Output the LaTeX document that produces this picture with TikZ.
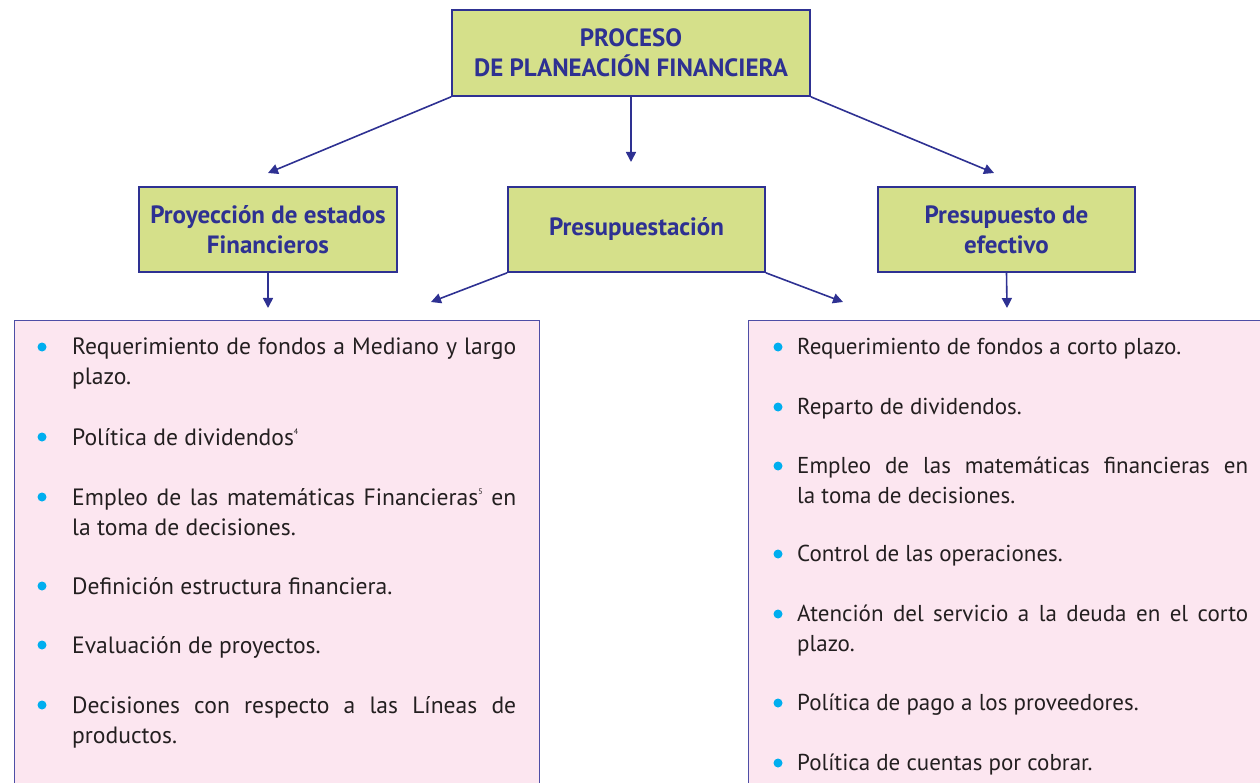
\documentclass[tikz,border=0pt]{standalone}
\usepackage{fontspec}
\setmainfont{PT Sans}
\usetikzlibrary{arrows.meta}
\definecolor{navy}{HTML}{2E3192}
\definecolor{lgreen}{HTML}{D5E08A}
\definecolor{lpink}{HTML}{FCE6F0}
\definecolor{pinkedge}{HTML}{4E4EA6}
\definecolor{cyanb}{HTML}{00AEEF}
\definecolor{txt}{HTML}{231F20}
\tikzset{
  head/.style={draw=navy, line width=1.6pt, fill=lgreen, text=navy, align=center,
    font=\fontsize{25}{30}\selectfont\bfseries, inner sep=0pt},
  listbox/.style={draw=pinkedge, line width=1.4pt, fill=lpink, inner sep=0pt, anchor=north west},
  arr/.style={draw=navy, line width=1.6pt, -{Triangle[length=10pt,width=10pt]}},
  item/.style={anchor=north west, inner sep=0pt, text=txt, align=justify,
    font=\fontsize{23}{30}\selectfont},
  litem/.style={item, text width=444pt, font=\fontsize{23.6}{30}\selectfont},
  ritem/.style={item, text width=451pt},
  bul/.style={circle, fill=cyanb, inner sep=0pt, minimum size=9pt},
}
\newcommand{\fnum}[1]{{\fontsize{8}{8}\selectfont\raisebox{11pt}{#1}}}
\newcommand{\st}{\rule{0pt}{15pt}}
\begin{document}
\begin{tikzpicture}[x=1pt,y=-1pt]
\useasboundingbox (0,0) rectangle (1260,783);
\clip (0,0) rectangle (1260,783);
% boxes
\node[head, minimum width=358pt, minimum height=86pt] (top) at (631,53) {PROCESO\\DE PLANEACIÓN FINANCIERA};
\node[head, minimum width=258pt, minimum height=85pt] (proy) at (268,229.5) {Proyección de estados\\Financieros};
\node[head, minimum width=257pt, minimum height=85pt] (pres) at (636.5,229.5) {Presupuestación};
\node[head, minimum width=257pt, minimum height=85pt] (efec) at (1006.5,229.5) {Presupuesto de\\efectivo};
\node[listbox, minimum width=525pt, minimum height=480pt] (lbox) at (14,320) {};
\node[listbox, minimum width=530pt, minimum height=480pt] (rbox) at (748,320) {};
% arrow targets
\coordinate (t1) at (268,173);
\coordinate (t2) at (631,162);
\coordinate (t3) at (994,173);
\coordinate (t4) at (268,308);
\coordinate (t5) at (431,302);
\coordinate (t6) at (843,302);
\coordinate (t7) at (1007,308);
\draw[arr] (top.south west) -- (t1);
\draw[arr] (top.south) -- (t2);
\draw[arr] (top.south east) -- (t3);
\draw[arr] (proy.south) -- (t4);
\draw[arr] (pres.south west) -- (t5);
\draw[arr] (pres.south east) -- (t6);
\draw[arr] (efec.south) -- (t7);
% left items
\node[litem] (l1) at (72,338) {\st Requerimiento de fondos a Mediano y largo\linebreak plazo.};
\node[litem] (l2) at (72,428) {\st Política de dividendos\fnum{4}};
\node[litem] (l3) at (72,488) {\st Empleo de las matemáticas Financieras\fnum{5} en\linebreak la toma de decisiones.};
\node[litem] (l4) at (72,577) {\st Definición estructura financiera.};
\node[litem] (l5) at (72,636) {\st Evaluación de proyectos.};
\node[litem] (l6) at (72,696) {\st Decisiones con respecto a las Líneas de\linebreak productos.};
\foreach \y [count=\i] in {347,437,497,586,645,705} \node[bul] (lb\i) at (42,\y) {};
% right items
\node[ritem] (r1) at (797,338) {\st Requerimiento de fondos a corto plazo.};
\node[ritem] (r2) at (797,398) {\st Reparto de dividendos.};
\node[ritem] (r3) at (797,457) {\st Empleo de las matemáticas financieras en\linebreak la toma de decisiones.};
\node[ritem] (r4) at (797,545) {\st Control de las operaciones.};
\node[ritem] (r5) at (797,605) {\st Atención del servicio a la deuda en el corto\linebreak plazo.};
\node[ritem] (r6) at (797,694) {\st Política de pago a los proveedores.};
\node[ritem] (r7) at (797,754) {\st Política de cuentas por cobrar.};
\foreach \y [count=\i] in {347,407,466,554,614,703,763} \node[bul] (rb\i) at (778,\y) {};
\end{tikzpicture}
\end{document}
